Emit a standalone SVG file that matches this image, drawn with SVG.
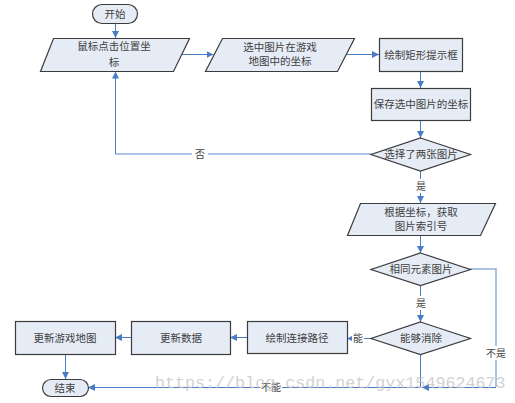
<svg xmlns="http://www.w3.org/2000/svg" width="515" height="403" viewBox="0 0 515 403">
<style>
.n{fill:#e6ecf6;stroke:#3c3c3c;stroke-width:1.2}
.t{font-family:"Noto Sans CJK SC","Noto Sans",sans-serif;font-size:10.5px;fill:#404040;text-anchor:middle}
.c{fill:none;stroke:#4a7cc6;stroke-width:1}
.cl{fill:none;stroke:#8fb0e0;stroke-width:1.5}
.lb{font-family:"Noto Sans CJK SC","Noto Sans",sans-serif;font-size:10px;fill:#404040;text-anchor:middle}
.wm{font-family:"Liberation Mono",monospace;font-size:16.7px;fill:#c4c4c4;opacity:0.75}
</style>
<defs>
<marker id="a" markerWidth="7" markerHeight="7" refX="7" refY="3.5" orient="auto" markerUnits="userSpaceOnUse">
<path d="M0,0 L7,3.5 L0,7 z" fill="#4a7cc6"/>
</marker>
</defs>
<rect width="515" height="403" fill="#ffffff"/>
<g id="connectors">
<path class="c" d="M115.5 23 V38" marker-end="url(#a)"/>
<path class="c" d="M181 54.5 H213.5" marker-end="url(#a)"/>
<path class="c" d="M345.5 54.5 H379" marker-end="url(#a)"/>
<path class="c" d="M420.5 71 V88" marker-end="url(#a)"/>
<path class="c" d="M420.5 120 V138" marker-end="url(#a)"/>
<path class="cl" d="M371 154 H115.5"/>
<path class="c" d="M115.5 154 V71.5" marker-end="url(#a)"/>
<path class="c" d="M420.5 171 V203" marker-end="url(#a)"/>
<path class="c" d="M420.5 235 V253" marker-end="url(#a)"/>
<path class="c" d="M420.5 285 V322" marker-end="url(#a)"/>
<path class="c" d="M371 338.5 H347" marker-end="url(#a)"/>
<path class="c" d="M247 337.5 H230" marker-end="url(#a)"/>
<path class="c" d="M131 337.5 H115" marker-end="url(#a)"/>
<path class="c" d="M65.5 354 V379" marker-end="url(#a)"/>
<path class="c" d="M420.5 354 V387.5 H88" marker-end="url(#a)"/>
<path class="cl" d="M470 269 H496 V387"/>
<path class="c" d="M496 387.5 H422" marker-end="url(#a)"/>
<rect x="192" y="147" width="16" height="14" fill="#fff"/>
<text class="lb" x="200" y="157.5">否</text>
<rect x="414" y="179" width="14" height="14" fill="#fff"/>
<text class="lb" x="421" y="189.5">是</text>
<rect x="414" y="296" width="14" height="14" fill="#fff"/>
<text class="lb" x="421" y="306.5">是</text>
<rect x="352" y="331" width="12" height="14" fill="#fff"/>
<text class="lb" x="358" y="341.5">能</text>
<rect x="485" y="346" width="22" height="14" fill="#fff"/>
<text class="lb" x="496" y="356.5">不是</text>
<rect x="260" y="380" width="22" height="14" fill="#fff"/>
<text class="lb" x="271" y="390.5">不能</text>
</g>
<g id="start"><rect class="n" x="92.5" y="4.5" width="45" height="19" rx="9.5"/><text class="t" x="115" y="17.5">开始</text></g>
<g id="mouse"><polygon class="n" points="53.5,38.5 189.5,38.5 173.5,71.5 40.5,71.5"/><text class="t" x="114" y="49.5">鼠标点击位置坐</text><text class="t" x="114" y="65.5">标</text></g>
<g id="selpos"><polygon class="n" points="222.5,38.5 354.5,38.5 337.5,71.5 205.5,71.5"/><text class="t" x="280" y="50.5">选中图片在游戏</text><text class="t" x="280" y="64.5">地图中的坐标</text></g>
<g id="drawrect"><rect class="n" x="379.5" y="38.5" width="83" height="33"/><text class="t" x="421" y="58.5">绘制矩形提示框</text></g>
<g id="savepos"><rect class="n" x="371.5" y="88.5" width="99" height="32"/><text class="t" x="421" y="108">保存选中图片的坐标</text></g>
<g id="twosel"><polygon class="n" points="420.5,138 470.5,154.5 420.5,171 371,154.5"/><text class="t" x="421" y="158">选择了两张图片</text></g>
<g id="getidx"><polygon class="n" points="360.5,203.5 495.5,203.5 480.5,235.5 347.5,235.5"/><text class="t" x="421" y="216">根据坐标，获取</text><text class="t" x="421" y="229.5">图片索引号</text></g>
<g id="same"><polygon class="n" points="420.5,253 470.5,269.5 420.5,285.5 371,269.5"/><text class="t" x="421" y="273">相同元素图片</text></g>
<g id="canclear"><polygon class="n" points="420.5,322 470.5,338.5 420.5,354.5 371,338.5"/><text class="t" x="421" y="342">能够消除</text></g>
<g id="drawpath"><rect class="n" x="247.5" y="321.5" width="100" height="32"/><text class="t" x="297" y="341.5">绘制连接路径</text></g>
<g id="updata"><rect class="n" x="131.5" y="321.5" width="99" height="33"/><text class="t" x="181" y="341.5">更新数据</text></g>
<g id="upmap"><rect class="n" x="15.5" y="321.5" width="100" height="33"/><text class="t" x="65" y="341.5">更新游戏地图</text></g>
<g id="end"><rect class="n" x="42.5" y="379.5" width="46" height="17" rx="8.5"/><text class="t" x="65" y="391.5">结束</text></g>
<text class="wm" x="155" y="388">https://blog.csdn.net/gyx1549624673</text>
</svg>
